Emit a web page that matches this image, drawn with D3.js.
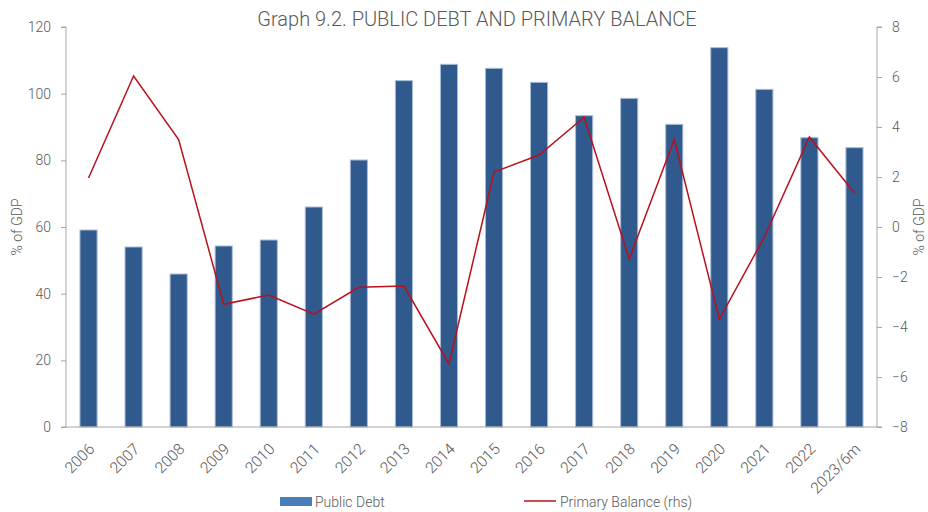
<!DOCTYPE html>
<html>
<head>
<meta charset="utf-8">
<script src="https://cdn.jsdelivr.net/npm/d3@7"></script>
<style>
  body { margin: 0; background: #fff; }
  text { font-family: "Roboto", "DejaVu Sans", sans-serif; font-weight: 300; fill: #595959; }
</style>
</head>
<body>
<div class="canvas"></div>
<script>
// data
const years = ['2006','2007','2008','2009','2010','2011','2012','2013','2014',
               '2015','2016','2017','2018','2019','2020','2021','2022','2023/6m'];
const publicDebt = [59.1, 54.0, 45.9, 54.3, 56.1, 66.0, 80.1, 103.9, 108.8,
                    107.6, 103.4, 93.4, 98.6, 90.8, 113.8, 101.3, 86.8, 83.8];
const primaryBalance = [1.96, 6.04, 3.5, -3.09, -2.72, -3.49, -2.41, -2.36, -5.48,
                        2.2, 2.88, 4.39, -1.28, 3.5, -3.69, -0.4, 3.6, 1.36];
const leftTicks = [0, 20, 40, 60, 80, 100, 120];
const rightTicks = [-8, -6, -4, -2, 0, 2, 4, 6, 8];

const width = 928, height = 512;
const plotL = 66, plotR = 877, plotT = 27, plotB = 427;

const svg = d3.select('.canvas').append('svg')
    .attr('width', width)
    .attr('height', height);

const x = d3.scaleBand().domain(years).range([plotL, plotR]).paddingInner(0.62).paddingOuter(0.31);
const yL = d3.scaleLinear().domain([0, 120]).range([plotB, plotT]);
const yR = d3.scaleLinear().domain([-8, 8]).range([plotB, plotT]);

// title
svg.append('text')
    .attr('x', 477)
    .attr('y', 26)
    .attr('text-anchor', 'middle')
    .attr('font-size', 20)
    .text('Graph 9.2. PUBLIC DEBT AND PRIMARY BALANCE');

// bars
svg.selectAll('rect.bar')
    .data(publicDebt)
    .enter().append('rect')
    .attr('class', 'bar')
    .attr('x', (d, i) => x(years[i]))
    .attr('y', d => yL(d))
    .attr('width', x.bandwidth())
    .attr('height', d => yL(0) - yL(d))
    .attr('fill', '#305a8e')
    .attr('stroke', '#a9bcd6')
    .attr('stroke-width', 1);

// left axis
const axL = svg.append('g')
    .attr('transform', `translate(${plotL},0)`)
    .call(d3.axisLeft(yL).tickValues(leftTicks).tickSize(5).tickPadding(10));
axL.select('.domain').attr('stroke', '#a6a6a6').attr('d', `M-5,${plotT}H0V${plotB}`);
axL.selectAll('.tick line').attr('stroke', '#a6a6a6');
axL.selectAll('.tick text').attr('font-size', 14).attr('fill', '#595959')
    .style('font-family', '"Roboto", "DejaVu Sans", sans-serif').style('font-weight', 300);

// right axis
const axR = svg.append('g')
    .attr('transform', `translate(${plotR},0)`)
    .call(d3.axisRight(yR).tickValues(rightTicks).tickSize(5).tickPadding(10));
axR.select('.domain').attr('stroke', '#a6a6a6').attr('d', `M5,${plotT}H0V${plotB}`);
axR.selectAll('.tick line').attr('stroke', '#a6a6a6');
axR.selectAll('.tick text').attr('font-size', 14).attr('fill', '#595959')
    .style('font-family', '"Roboto", "DejaVu Sans", sans-serif').style('font-weight', 300);

// x axis
const axX = svg.append('g')
    .attr('transform', `translate(0,${plotB})`)
    .call(d3.axisBottom(x).tickSize(0).tickPadding(0));
axX.select('.domain').attr('stroke', '#a6a6a6').attr('d', `M${plotL - 5},0H${plotR + 5}`);
axX.selectAll('.tick text')
    .attr('font-size', 15.5)
    .attr('fill', '#595959')
    .style('font-family', '"Roboto", "DejaVu Sans", sans-serif').style('font-weight', 300)
    .attr('text-anchor', 'end')
    .attr('y', 0)
    .attr('dy', 0)
    .attr('transform', 'translate(7,23) rotate(-45)');

// primary balance line
const line = d3.line()
    .x((d, i) => x(years[i]) + x.bandwidth() / 2)
    .y(d => yR(d));

svg.append('path')
    .datum(primaryBalance)
    .attr('d', line)
    .attr('fill', 'none')
    .attr('stroke', '#b8101c')
    .attr('stroke-width', 1.5);

// axis titles
svg.append('text')
    .attr('transform', `translate(22,${(plotT + plotB) / 2}) rotate(-90)`)
    .attr('text-anchor', 'middle')
    .attr('font-size', 14)
    .text('% of GDP');

svg.append('text')
    .attr('transform', `translate(924,${(plotT + plotB) / 2}) rotate(-90)`)
    .attr('text-anchor', 'middle')
    .attr('font-size', 14)
    .text('% of GDP');

// legend
svg.append('rect')
    .attr('x', 280).attr('y', 497)
    .attr('width', 32).attr('height', 9)
    .attr('fill', '#4a7ebb');
svg.append('text')
    .attr('x', 315).attr('y', 507)
    .attr('font-size', 14)
    .text('Public Debt');

svg.append('line')
    .attr('x1', 524).attr('x2', 556)
    .attr('y1', 501).attr('y2', 501)
    .attr('stroke', '#b8101c')
    .attr('stroke-width', 1.5);
svg.append('text')
    .attr('x', 560).attr('y', 507)
    .attr('font-size', 14)
    .text('Primary Balance (rhs)');
</script>
</body>
</html>
